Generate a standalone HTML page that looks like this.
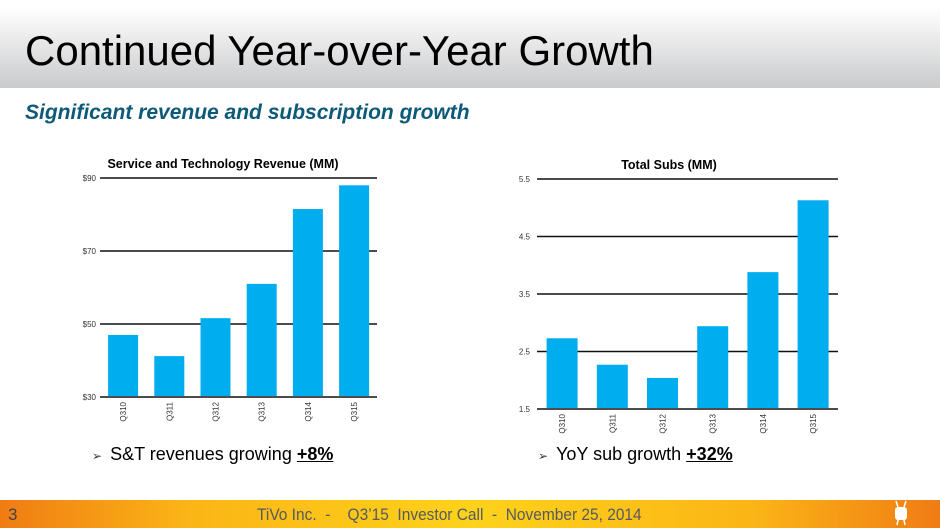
<!DOCTYPE html>
<html><head><meta charset="utf-8"><style>
body{margin:0;width:940px;height:528px;overflow:hidden;background:#fff;font-family:"Liberation Sans",Arial,sans-serif;position:relative}
.hdr{position:absolute;left:0;top:8px;width:940px;height:80px;background:linear-gradient(#ffffff,#c9cacc)}
.title{position:absolute;left:25px;top:27px;font-size:42px;color:#000;white-space:nowrap}
.sub{position:absolute;left:25px;top:101px;font-size:21px;font-weight:bold;font-style:italic;color:#0d5a78;white-space:nowrap}
.bul{position:absolute;top:444px;font-size:18px;color:#000;white-space:nowrap}
.bul b{text-decoration:underline}
.bul .ar{font-size:12px;color:#334;margin-right:8px}
.ftr{position:absolute;left:0;top:500px;width:940px;height:28px;background:linear-gradient(90deg,#f07c14 0%,#fbb516 20%,#fdd21a 50%,#fbb516 80%,#f07c14 100%)}
.ftr span{position:absolute;top:5px;font-size:17px;color:#555a60;white-space:nowrap}
.ftr .ft{transform:scaleX(0.91);transform-origin:0 0}
</style></head><body>
<div class="hdr"></div>
<div class="title">Continued Year-over-Year Growth</div>
<div class="sub">Significant revenue and subscription growth</div>
<svg id="c" width="940" height="528" style="position:absolute;left:0;top:0"></svg>
<div class="bul" style="left:92px"><span class="ar">&#x27A2;</span>S&amp;T revenues growing <b>+8%</b></div>
<div class="bul" style="left:538px"><span class="ar">&#x27A2;</span>YoY sub growth <b>+32%</b></div>
<div class="ftr">
<span style="left:8px;color:#444">3</span>
<span class="ft" style="left:257px">TiVo Inc.&nbsp; -&nbsp;&nbsp;&nbsp; Q3’15&nbsp; Investor Call&nbsp; -&nbsp; November 25, 2014</span>
<span style="left:893px;top:0;width:16px;height:26px"><svg width="16" height="26"><rect x="2" y="7" width="12" height="13" rx="3" fill="#fff"/><path d="M5 7L3 1M11 7L13 1M5 20l-1 5M11 20l1 5" stroke="#fff" stroke-width="1.5"/></svg></span>
</div>
<script>
const categories=["Q310","Q311","Q312","Q313","Q314","Q315"];
const revenueValues=[47,41.2,51.6,61,81.5,88];
const revenueTicks=[30,50,70,90];
const revenueTickLabels=["$30","$50","$70","$90"];
const subsValues=[2.73,2.27,2.04,2.94,3.88,5.13];
const subsTicks=[1.5,2.5,3.5,4.5,5.5];
const subsTickLabels=["1.5","2.5","3.5","4.5","5.5"];
const svg=document.getElementById('c');
const NS='http://www.w3.org/2000/svg';
function mk(tag,attrs){const e=document.createElementNS(NS,tag);for(const k in attrs)e.setAttribute(k,attrs[k]);svg.appendChild(e);return e;}
function chart(o){
  const y=v=>o.yBot-(v-o.min)/(o.max-o.min)*(o.yBot-o.yTop);
  const x=i=>o.x0+o.step*(i+0.5);
  const t=mk('text',{x:o.titleX,y:o.yTop-10,'font-size':12.5,'font-weight':'bold','text-anchor':'middle',fill:'#000'});
  t.textContent=o.title;
  
  
  o.ticks.forEach((tv,i)=>{
    const l=mk('line',{x1:o.gx0,x2:o.gx1,y1:y(tv),y2:y(tv),stroke:'#111','stroke-width':1.5});
    
    
    const tl=mk('text',{x:o.labX,y:y(tv)+3,'font-size':8,'text-anchor':'end',fill:'#333'});
    tl.textContent=o.tickLabels[i];
    
    
  });
  o.values.forEach((v,i)=>{
    const r=mk('rect',{x:x(i)-o.bw/2,y:y(v),width:o.bw,height:y(o.min)-y(v)-1,fill:'#00adee'});
    
    
    const cx=x(i),cy=y(o.min)+5;
    const ct=mk('text',{x:cx+3,y:cy,'font-size':8,'text-anchor':'end',fill:'#333',transform:'rotate(-90 '+(cx+3)+' '+cy+')'});
    ct.textContent=categories[i];
    
    
  });
}
chart({key:'revenue',title:'Service and Technology Revenue (MM)',titleX:223,values:revenueValues,ticks:revenueTicks,tickLabels:revenueTickLabels,min:30,max:90,yTop:178,yBot:397,x0:100,step:46.2,bw:30,gx0:100,gx1:377,labX:96});
chart({key:'subs',title:'Total Subs (MM)',titleX:669,values:subsValues,ticks:subsTicks,tickLabels:subsTickLabels,min:1.5,max:5.5,yTop:179,yBot:409,x0:537,step:50.2,bw:31,gx0:537,gx1:838,labX:530});
</script>
</body></html>
